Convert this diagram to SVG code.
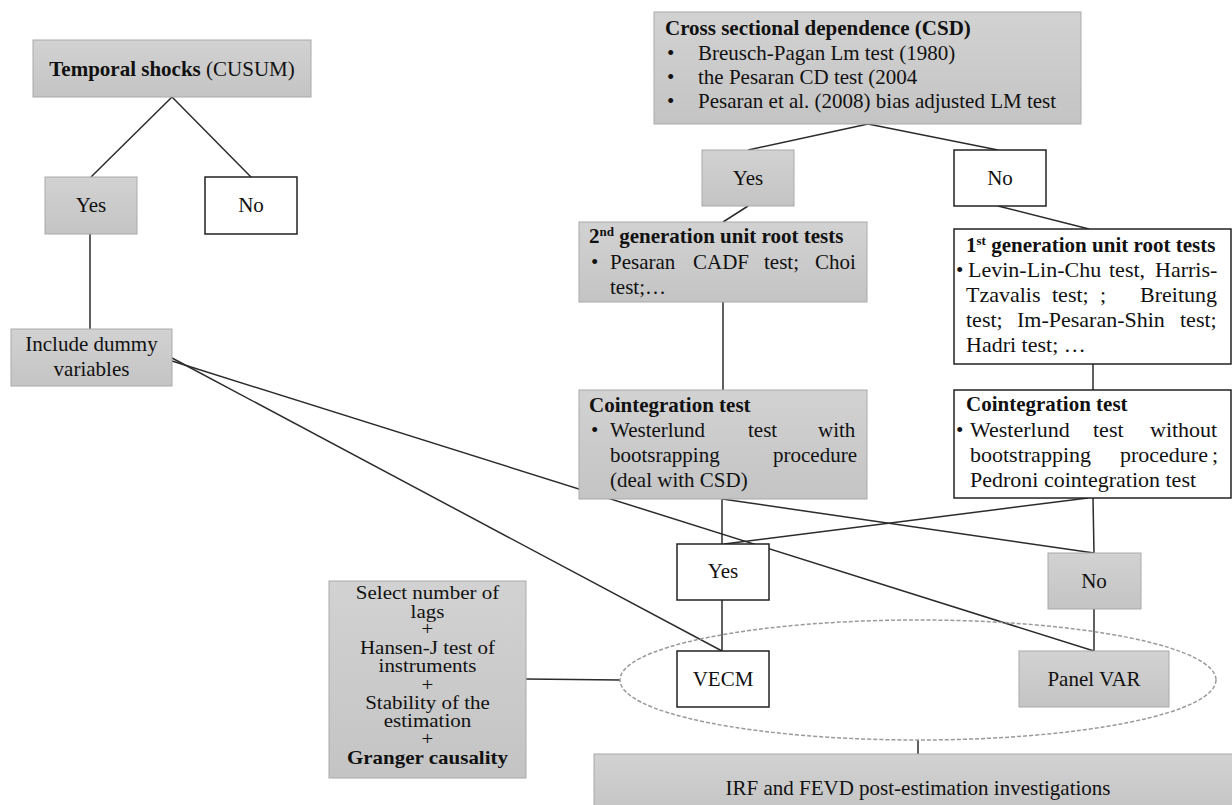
<svg xmlns="http://www.w3.org/2000/svg" width="1232" height="805" viewBox="0 0 1232 805">
<defs>
<linearGradient id="gg" x1="0" y1="0" x2="0" y2="1">
<stop offset="0" stop-color="#d2d2d2"/>
<stop offset="1" stop-color="#c4c4c4"/>
</linearGradient>
</defs>
<style>
.g{fill:url(#gg);stroke:#aaaaaa;stroke-width:1}
.w{fill:#ffffff;stroke:#222222;stroke-width:1.5}
text{font-family:"Liberation Serif","Times New Roman",serif;font-size:21px;fill:#111111}
.c{text-anchor:middle}
.b{font-weight:bold}
.r{font-size:22px}
.ln line{stroke:#2b2b2b;stroke-width:1.5}
.sup{font-size:13px}
</style>
<rect width="1232" height="805" fill="#ffffff"/>
<g id="connectors" class="ln">
<line x1="172" y1="97" x2="91" y2="177"/>
<line x1="172" y1="97" x2="251" y2="177"/>
<line x1="90" y1="234" x2="90" y2="329"/>
<line x1="868" y1="124" x2="748" y2="150"/>
<line x1="868" y1="124" x2="998" y2="150"/>
<line x1="748" y1="206" x2="723" y2="222"/>
<line x1="998" y1="206" x2="1089" y2="229"/>
<line x1="723" y1="302" x2="723" y2="390"/>
<line x1="1093" y1="364" x2="1093" y2="390"/>
<line x1="722" y1="499" x2="722" y2="544"/>
<line x1="722" y1="499" x2="1094" y2="553"/>
<line x1="1093" y1="498" x2="1094" y2="553"/>
<line x1="1088" y1="498" x2="724" y2="544"/>
<line x1="722" y1="600" x2="722" y2="651"/>
<line x1="1094" y1="609" x2="1094" y2="651"/>
<line x1="172" y1="358" x2="722" y2="651"/>
<line x1="172" y1="361" x2="1094" y2="651"/>
<line x1="526" y1="679" x2="620" y2="680"/>
<line x1="918" y1="740" x2="918" y2="754"/>
</g>
<g id="ellipse">
<ellipse cx="918" cy="680" rx="298" ry="60" fill="none" stroke="#9a9a9a" stroke-width="1.5" stroke-dasharray="4 2"/>
</g>
<g id="temporal">
<rect class="g" x="33" y="40" width="278" height="57"/>
<text class="c" x="172" y="76"><tspan class="b">Temporal shocks</tspan> (CUSUM)</text>
</g>
<g id="yes1">
<rect class="g" x="45" y="177" width="92" height="57"/>
<text class="c" x="91" y="212">Yes</text>
</g>
<g id="no1">
<rect class="w" x="205" y="177" width="92" height="57"/>
<text class="c" x="251" y="212">No</text>
</g>
<g id="dummy">
<rect class="g" x="11" y="329" width="161" height="57"/>
<text class="c" x="91.5" y="351">Include dummy</text>
<text class="c" x="91.5" y="376">variables</text>
</g>
<g id="csd">
<rect class="g" x="654" y="12" width="427" height="112"/>
<text class="b" x="665" y="35">Cross sectional dependence (CSD)</text>
<text x="667" y="60">•</text><text x="698" y="60">Breusch-Pagan Lm test (1980)</text>
<text x="667" y="84">•</text><text x="698" y="84">the Pesaran CD test (2004</text>
<text x="667" y="108">•</text><text x="698" y="108">Pesaran et al. (2008) bias adjusted LM test</text>
</g>
<g id="yes2">
<rect class="g" x="702" y="150" width="92" height="56"/>
<text class="c" x="748" y="185">Yes</text>
</g>
<g id="no2">
<rect class="w" x="954" y="150" width="92" height="56"/>
<text class="c" x="1000" y="185">No</text>
</g>
<g id="gen2">
<rect class="g" x="579" y="222" width="288" height="80"/>
<text class="b" x="589" y="243">2<tspan class="sup" dy="-7">nd</tspan><tspan dy="7"> generation unit root tests</tspan></text>
<text x="591" y="269">•</text>
<text y="269"><tspan x="610">Pesaran</tspan><tspan x="693">CADF</tspan><tspan x="764">test;</tspan><tspan x="815">Choi</tspan></text>
<text x="610" y="294">test;…</text>
</g>
<g id="gen1">
<rect class="w" x="954" y="229" width="277" height="135"/>
<text class="b" x="966" y="252">1<tspan class="sup" dy="-7">st</tspan><tspan dy="7"> generation unit root tests</tspan></text>
<text x="956" y="277">•</text>
<text class="r" y="277"><tspan x="968">Levin-Lin-Chu</tspan><tspan x="1109">test,</tspan><tspan x="1155">Harris-</tspan></text>
<text class="r" y="302"><tspan x="966">Tzavalis</tspan><tspan x="1052">test;</tspan><tspan x="1100">;</tspan><tspan x="1140">Breitung</tspan></text>
<text class="r" y="327"><tspan x="966">test;</tspan><tspan x="1017">Im-Pesaran-Shin</tspan><tspan x="1180">test;</tspan></text>
<text class="r" x="966" y="352">Hadri test; …</text>
</g>
<g id="coint2">
<rect class="g" x="579" y="390" width="288" height="109"/>
<text class="b" x="589" y="412">Cointegration test</text>
<text x="591" y="437">•</text>
<text y="437"><tspan x="610">Westerlund</tspan><tspan x="748">test</tspan><tspan x="818">with</tspan></text>
<text y="462"><tspan x="610">bootsrapping</tspan><tspan x="773">procedure</tspan></text>
<text x="610" y="487">(deal with CSD)</text>
</g>
<g id="coint1">
<rect class="w" x="954" y="390" width="277" height="108"/>
<text class="b" x="966" y="411">Cointegration test</text>
<text x="956" y="437">•</text>
<text class="r" y="437"><tspan x="970">Westerlund</tspan><tspan x="1093">test</tspan><tspan x="1150">without</tspan></text>
<text class="r" y="462"><tspan x="970">bootstrapping</tspan><tspan x="1120">procedure</tspan><tspan x="1212">;</tspan></text>
<text class="r" x="970" y="487">Pedroni cointegration test</text>
</g>
<g id="yes3">
<rect class="w" x="677" y="544" width="92" height="56"/>
<text class="c" x="723" y="578">Yes</text>
</g>
<g id="no3">
<rect class="g" x="1048" y="553" width="93" height="56"/>
<text class="c" x="1094" y="588">No</text>
</g>
<g id="vecm">
<rect class="w" x="677" y="651" width="92" height="56"/>
<text class="c" x="723" y="686">VECM</text>
</g>
<g id="panelvar">
<rect class="g" x="1019" y="651" width="150" height="56"/>
<text class="c" x="1094" y="686">Panel VAR</text>
</g>
<g id="select">
<rect class="g" x="329" y="581" width="197" height="197"/>
<text class="c" transform="translate(427.5 599) scale(1 0.85)">Select number of</text>
<text class="c" transform="translate(427.5 618) scale(1 0.85)">lags</text>
<text class="c" transform="translate(427.5 635) scale(1 0.85)">+</text>
<text class="c" transform="translate(427.5 654) scale(1 0.85)">Hansen-J test of</text>
<text class="c" transform="translate(427.5 672) scale(1 0.85)">instruments</text>
<text class="c" transform="translate(427.5 691) scale(1 0.85)">+</text>
<text class="c" transform="translate(427.5 709) scale(1 0.85)">Stability of the</text>
<text class="c" transform="translate(427.5 727) scale(1 0.85)">estimation</text>
<text class="c" transform="translate(427.5 745) scale(1 0.85)">+</text>
<text class="c b" transform="translate(427.5 764) scale(1 0.85)">Granger causality</text>
</g>
<g id="irf">
<rect class="g" x="594" y="754" width="650" height="60"/>
<text class="c" x="918" y="795">IRF and FEVD post-estimation investigations</text>
</g>
</svg>
